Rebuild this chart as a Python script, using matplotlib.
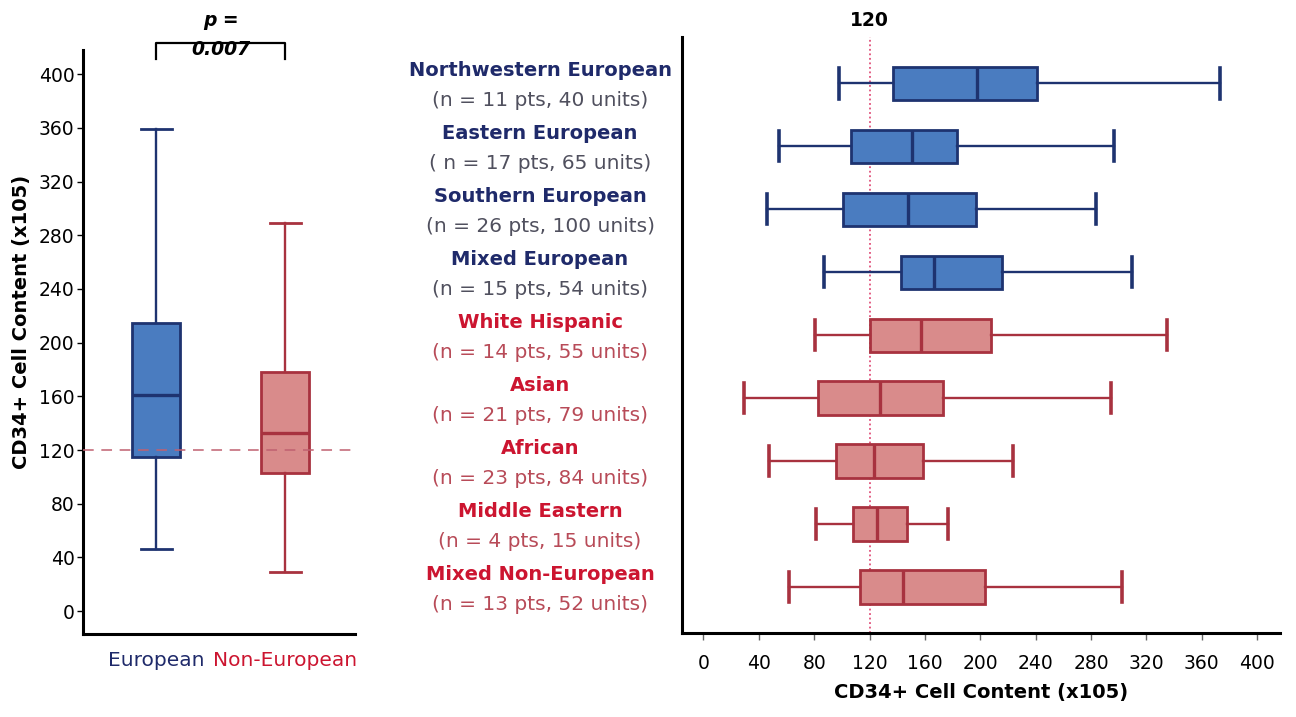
import matplotlib
matplotlib.use("Agg")
import matplotlib.pyplot as plt
import matplotlib.transforms as mtransforms

plt.rcParams['font.family'] = ['DejaVu Sans']

# overall groups (left panel)
groups = ["European", "Non-European"]
grp_low = [46, 29.5]
grp_q1 = [115, 103]
grp_med = [161, 133]
grp_q3 = [215, 178]
grp_high = [359, 289]

# ancestry subgroups (right panel), top to bottom
names = ["Northwestern European", "Eastern European", "Southern European",
         "Mixed European", "White Hispanic", "Asian", "African",
         "Middle Eastern", "Mixed Non-European"]
counts = ["(n = 11 pts, 40 units)", "( n = 17 pts, 65 units)",
          "(n = 26 pts, 100 units)", "(n = 15 pts, 54 units)",
          "(n = 14 pts, 55 units)", "(n = 21 pts, 79 units)",
          "(n = 23 pts, 84 units)", "(n = 4 pts, 15 units)",
          "(n = 13 pts, 52 units)"]
is_european = [True, True, True, True, False, False, False, False, False]
sub_low = [98, 54.6, 45.9, 86.8, 80.8, 29.2, 47.3, 81, 61.8]
sub_q1 = [136.7, 106.6, 101, 142.5, 120.5, 82.5, 95.5, 107.8, 113.1]
sub_med = [197.8, 150.6, 147.8, 166.5, 157.4, 127.5, 123.2, 125.1, 143.9]
sub_q3 = [240.8, 183.4, 196.9, 215.7, 207.7, 173.3, 158.8, 146.8, 203.4]
sub_high = [373.2, 296.6, 283.6, 309.8, 334.9, 294.4, 223.9, 176.9, 302.6]

threshold = 120

BLUE_FILL = "#4a7cc0"
BLUE_EDGE = "#1e3370"
RED_FILL = "#d98b8b"
RED_EDGE = "#a8323f"
NAVY_TXT = "#1f2a6a"
RED_TXT = "#cc1530"


def make_stats(lo, q1, med, q3, hi):
    return [dict(whislo=a, q1=b, med=c, q3=d, whishi=e, fliers=[])
            for a, b, c, d, e in zip(lo, q1, med, q3, hi)]


def style_box(parts, fills, edges, lw=2.0, cap_lw=2.6):
    for i, box in enumerate(parts['boxes']):
        box.set_facecolor(fills[i])
        box.set_edgecolor(edges[i])
        box.set_linewidth(lw)
        parts['medians'][i].set_color(edges[i])
        parts['medians'][i].set_linewidth(lw + 0.4)
        for k in (2 * i, 2 * i + 1):
            parts['whiskers'][k].set_color(edges[i])
            parts['whiskers'][k].set_linewidth(lw - 0.3)
            parts['caps'][k].set_color(edges[i])
            parts['caps'][k].set_linewidth(cap_lw)


fig = plt.figure(figsize=(12.96, 7.17), dpi=100)

# ---- left panel: European vs Non-European ----
ax1 = fig.add_axes([0.064, 0.1158, 0.21, 0.8145])
ax1.axhline(threshold, color="#c06070", lw=1.1, ls=(0, (7, 5)), zorder=3)
bp = ax1.bxp(make_stats(grp_low, grp_q1, grp_med, grp_q3, grp_high),
             positions=[1, 2], widths=0.37, patch_artist=True,
             showfliers=False, manage_ticks=False)
style_box(bp, [BLUE_FILL, RED_FILL], [BLUE_EDGE, RED_EDGE], cap_lw=2.0)
for cap in bp['caps']:
    x0, x1 = cap.get_xdata()
    c = (x0 + x1) / 2
    cap.set_xdata([c - 0.12, c + 0.12])

ax1.set_xlim(0.434, 2.54)
ax1.set_ylim(-17, 418)
ax1.set_yticks(range(0, 401, 40))
ax1.set_xticks([1, 2])
ax1.set_xticklabels(groups, fontsize=14.5)
for lab, col in zip(ax1.get_xticklabels(), [NAVY_TXT, RED_TXT]):
    lab.set_color(col)
ax1.tick_params(axis='x', length=0, pad=12)
ax1.tick_params(axis='y', labelsize=13.5, length=4, width=1, pad=2)
for s in ("top", "right"):
    ax1.spines[s].set_visible(False)
for s in ("left", "bottom"):
    ax1.spines[s].set_linewidth(2.2)
ax1.set_ylabel("CD34+ Cell Content (x105)", fontsize=14, fontweight="bold")
ax1.yaxis.set_label_coords(-0.19, 0.535)

# significance bracket
ax1.plot([1, 1, 2, 2], [411, 423, 423, 411], color="black", lw=1.6,
         clip_on=False)
ax1.text(1.5, 440, "p =", ha="center", va="center", fontsize=13.5,
         fontstyle="italic", fontweight="bold")
ax1.text(1.5, 418, "0.007", ha="center", va="center", fontsize=13.5,
         fontstyle="italic", fontweight="bold")

# ---- right panel: ancestry subgroups ----
ax2 = fig.add_axes([0.5262, 0.1172, 0.4614, 0.831])
ypos = list(range(len(names)))
fills = [BLUE_FILL if e else RED_FILL for e in is_european]
edges = [BLUE_EDGE if e else RED_EDGE for e in is_european]
ax2.axvline(threshold, color="#e0507a", lw=1.3, ls=(0, (1, 1.5)), zorder=1)
bp2 = ax2.bxp(make_stats(sub_low, sub_q1, sub_med, sub_q3, sub_high),
              positions=ypos, widths=0.53, vert=False, patch_artist=True,
              showfliers=False, manage_ticks=False)
style_box(bp2, fills, edges)
for cap in bp2['caps']:
    y0, y1 = cap.get_ydata()
    c = (y0 + y1) / 2
    cap.set_ydata([c - 0.24, c + 0.24])

ax2.set_xlim(-15.5, 416.5)
ax2.set_ylim(8.73, -0.735)
ax2.set_xticks(range(0, 401, 40))
ax2.set_yticks([])
ax2.tick_params(axis='x', labelsize=13.5, length=5, width=1, color="#666666",
                pad=10)
for s in ("top", "right"):
    ax2.spines[s].set_visible(False)
for s in ("left", "bottom"):
    ax2.spines[s].set_linewidth(2.2)
ax2.set_xlabel("CD34+ Cell Content (x105)", fontsize=14, fontweight="bold",
               labelpad=7)
ax2.text(threshold, -1.0, str(threshold), ha="center", va="center",
         fontsize=13.5, fontweight="bold")

trans = mtransforms.blended_transform_factory(fig.transFigure, ax2.transData)
for y, nm, ct, eu in zip(ypos, names, counts, is_european):
    ax2.text(0.4167, y - 0.2, nm, transform=trans, ha="center", va="center",
             fontsize=14, fontweight="bold",
             color=NAVY_TXT if eu else RED_TXT)
    ax2.text(0.4167, y + 0.27, ct, transform=trans, ha="center", va="center",
             fontsize=14.5, color="#50505e" if eu else "#b84b58")

fig.savefig("out.png", dpi=100)
